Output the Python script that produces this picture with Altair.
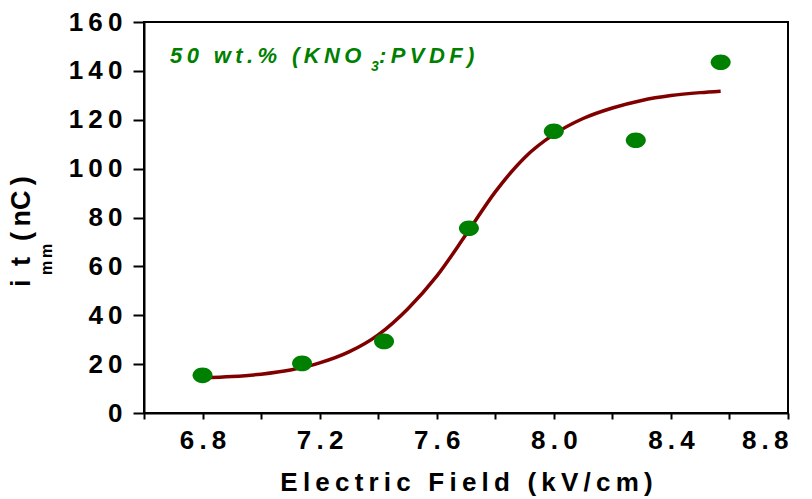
import altair as alt
import pandas as pd

# measured points
field = [6.80, 7.14, 7.42, 7.71, 8.00, 8.28, 8.57]
charge = [15.4, 20.3, 29.3, 75.6, 115.3, 111.6, 143.5]

# fitted curve
fit_field = [6.80, 6.90, 7.00, 7.10, 7.20, 7.30, 7.40, 7.50, 7.60, 7.70, 7.80, 7.90, 8.00, 8.10, 8.20, 8.30, 8.40, 8.50, 8.57]
fit_charge = [14.3, 14.9, 15.9, 17.6, 20.5, 25.0, 32.0, 42.5, 56.0, 73.0, 90.5, 104.5, 114.0, 120.5, 124.8, 127.9, 129.9, 131.1, 131.7]

x_ticks = [6.6, 6.8, 7.0, 7.2, 7.4, 7.6, 7.8, 8.0, 8.2, 8.4, 8.6, 8.8]
y_ticks = [0, 10, 20, 30, 40, 50, 60, 70, 80, 90, 100, 110, 120, 130, 140, 150, 160]

FONT = "Liberation Sans"
SP = "\u2009"

pts = pd.DataFrame({"E": field, "Q": charge})
fit = pd.DataFrame({"E": fit_field, "Q": fit_charge})

x_scale = alt.Scale(domain=[6.6, 8.8], nice=False, zero=False)
y_scale = alt.Scale(domain=[0, 160], nice=False)

x_axis = alt.Axis(
    values=x_ticks,
    format=".1f",
    labelExpr="round(datum.value*10) % 4 === 0 ? join(split(datum.label, ''), '" + SP + "') : ''",
    tickSize=6,
    labelPadding=8,
    title=SP.join("Electric Field (kV/cm)"),
    titleFontSize=26,
    titlePadding=16,
)
y_axis = alt.Axis(
    values=y_ticks,
    format="d",
    labelExpr="datum.value % 20 === 0 ? join(split(datum.label, ''), '" + SP + "') : ''",
    tickSize={"condition": {"test": "datum.value % 20 === 0", "value": 11}, "value": 7},
    labelPadding=11,
    title=None,
)

line = alt.Chart(fit).mark_line(color="#800000", strokeWidth=3.5, interpolate="monotone").encode(
    x=alt.X("E:Q", scale=x_scale, axis=x_axis),
    y=alt.Y("Q:Q", scale=y_scale, axis=y_axis),
)

ellipse = "M -1 0 A 1 0.78 0 1 0 1 0 A 1 0.78 0 1 0 -1 0 Z"
points = alt.Chart(pts).mark_point(shape=ellipse, size=400, filled=True, color="#008000", opacity=1).encode(
    x="E:Q", y="Q:Q"
)


def label(text, x, y, size, color="black", angle=0, italic=False):
    return alt.Chart(pd.DataFrame({"t": [text]})).mark_text(
        align="left", baseline="alphabetic", angle=angle, font=FONT, fontWeight="bold",
        fontSize=size, color=color, fontStyle="italic" if italic else "normal",
    ).encode(x=alt.value(x), y=alt.value(y), text="t:N")


green = "#008000"
annot = [
    label(SP.join("50 wt.% (KNO"), 26, 41, 22, green, italic=True),
    label("3", 227, 49, 14, green, italic=True),
    label(SP.join(":PVDF)"), 235, 41, 22, green, italic=True),
    label("i", -114, 265, 27, angle=270),
    label("m", -92, 253, 16, angle=270),
    label("t", -114, 244, 27, angle=270),
    label("m", -92, 236, 16, angle=270),
    label("(" + SP + "nC" + SP + ")", -114, 219, 27, angle=270),
]

chart = alt.layer(line, points, *annot).properties(
    width=644, height=391,
    padding={"left": 144, "top": 22, "right": 24, "bottom": 86},
    autosize=alt.AutoSizeParams(type="none"),
).configure_view(
    stroke="black", strokeWidth=2
).configure_axis(
    domainColor="black", domainWidth=2, tickColor="black", tickWidth=2, grid=False,
    labelFont=FONT, labelFontSize=26, labelFontWeight="bold", labelColor="black",
    titleFont=FONT, titleFontWeight="bold", titleColor="black",
)

chart.save("out.html", embed_options={"renderer": "svg", "actions": False})
